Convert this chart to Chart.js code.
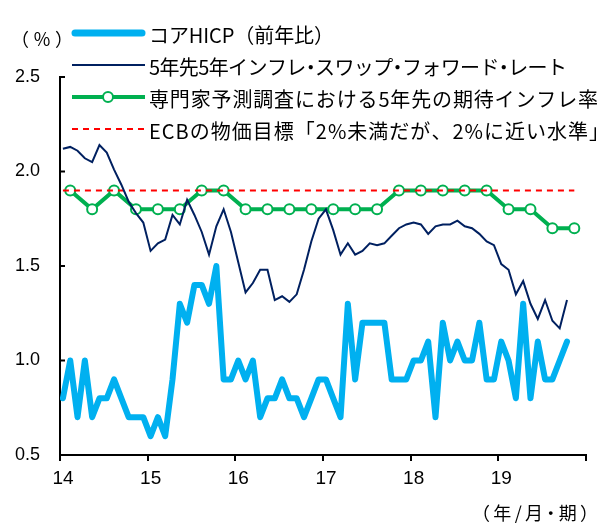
<!DOCTYPE html>
<html>
<head>
<meta charset="utf-8">
<script src="https://cdn.jsdelivr.net/npm/chart.js@4"></script>
<style>
html, body { margin: 0; padding: 0; background: #fff; }
</style>
</head>
<body>
<canvas id="chart" width="602" height="524"></canvas>
<script>
// monthly data from Jan 2014 (month index 0)
const startYear = 14;
const yearTicks = [14, 15, 16, 17, 18, 19];

const hicp = [
    0.8, 1.0, 0.7, 1.0, 0.7, 0.8, 0.8, 0.9, 0.8, 0.7, 0.7, 0.7,
    0.6, 0.7, 0.6, 0.9, 1.3, 1.2, 1.4, 1.4, 1.3, 1.5, 0.9, 0.9,
    1.0, 0.9, 1.0, 0.7, 0.8, 0.8, 0.9, 0.8, 0.8, 0.7, 0.8, 0.9,
    0.9, 0.8, 0.7, 1.3, 0.9, 1.2, 1.2, 1.2, 1.2, 0.9, 0.9, 0.9,
    1.0, 1.0, 1.1, 0.7, 1.2, 1.0, 1.1, 1.0, 1.0, 1.2, 0.9, 0.9,
    1.1, 1.0, 0.8, 1.3, 0.8, 1.1, 0.9, 0.9, 1.0, 1.1
];

const swap5y5y = [
    2.12, 2.13, 2.11, 2.07, 2.05, 2.14, 2.10, 2.01, 1.93, 1.84, 1.78, 1.73,
    1.58, 1.62, 1.64, 1.77, 1.72, 1.85, 1.77, 1.68, 1.56, 1.71, 1.80, 1.68,
    1.52, 1.36, 1.41, 1.48, 1.48, 1.32, 1.34, 1.31, 1.35, 1.48, 1.63, 1.75,
    1.80, 1.69, 1.56, 1.62, 1.56, 1.58, 1.62, 1.61, 1.62, 1.66, 1.70, 1.72,
    1.73, 1.72, 1.67, 1.71, 1.72, 1.72, 1.74, 1.71, 1.70, 1.67, 1.63, 1.61,
    1.51, 1.48, 1.35, 1.42, 1.30, 1.22, 1.32, 1.21, 1.17, 1.32
];

// quarterly survey, first one in Feb 2014 (month 1), every 3 months
const surveyMonths = [1, 4, 7, 10, 13, 16, 19, 22, 25, 28, 31, 34,
                      37, 40, 43, 46, 49, 52, 55, 58, 61, 64, 67, 70];
const survey = [1.9, 1.8, 1.9, 1.8, 1.8, 1.8, 1.9, 1.9, 1.8, 1.8, 1.8, 1.8,
                1.8, 1.8, 1.8, 1.9, 1.9, 1.9, 1.9, 1.9, 1.8, 1.8, 1.7, 1.7];

const targetLevel = 1.9;
const targetMonths = [0, 70];

const labels = [
    "コアHICP（前年比）",
    "5年先5年インフレ・スワップ・フォワード・レート",
    "専門家予測調査における5年先の期待インフレ率",
    "ECBの物価目標「2%未満だが、2%に近い水準」"
];

function monthX(m) {
    return startYear + (m + 0.4) / 12;
}

// draws text char by char so it spans x0..x1, middle dots kept narrow
function fitText(c, text, x0, x1, y) {
    const chars = Array.from(text);
    const widths = chars.map(ch => c.measureText(ch).width * (ch === "・" ? 0.5 : 1));
    const natural = widths.reduce((a, b) => a + b, 0);
    const gap = chars.length > 1 ? (x1 - x0 - natural) / (chars.length - 1) : 0;
    let x = x0;
    c.textAlign = "center";
    chars.forEach((ch, i) => {
        c.fillText(ch, x + widths[i] / 2, y);
        x += widths[i] + gap;
    });
}

const ctx = document.getElementById("chart").getContext("2d");

const legendPlugin = {
    id: "legendDraw",
    afterDraw(chart) {
        const c = chart.ctx;
        const sets = chart.data.datasets;
        const rows = [33, 65, 97, 129];
        const textEnds = [334, 567, 598, 609];
        c.save();
        sets.forEach((ds, i) => {
            const y = rows[i];
            c.beginPath();
            c.strokeStyle = ds.borderColor;
            c.lineWidth = i === 0 ? 7 : ds.borderWidth;
            c.lineCap = i === 0 ? "round" : "butt";
            c.setLineDash(ds.borderDash || []);
            c.moveTo(i === 0 ? 75 : 72, y);
            c.lineTo(i === 0 ? 142 : 145, y);
            c.stroke();
            c.setLineDash([]);
            if (ds.pointRadius > 0) {
                c.beginPath();
                c.arc(108, y, 5, 0, Math.PI * 2);
                c.fillStyle = "#fff";
                c.fill();
                c.lineWidth = 2;
                c.stroke();
            }
            c.fillStyle = "#000";
            c.font = '20px "Noto Sans CJK JP"';
            c.textBaseline = "middle";
            fitText(c, ds.label, 149, textEnds[i], y + 2);
        });

        c.font = '18px "Noto Sans CJK JP"';
        fitText(c, "（%）", 11, 73, 39);
        fitText(c, "（年/月・期）", 472, 598, 513);

        // small inward tick marks on the y axis
        const ys = chart.scales.y;
        const left = chart.chartArea.left;
        c.strokeStyle = "#000";
        c.lineWidth = 2;
        ys.ticks.forEach(t => {
            const py = ys.getPixelForValue(t.value);
            c.beginPath();
            c.moveTo(left, py);
            c.lineTo(left + 5, py);
            c.stroke();
        });
        c.restore();
    }
};

new Chart(ctx, {
    type: "line",
    data: {
        datasets: [
            {
                label: labels[0],
                data: hicp.map((v, i) => ({ x: monthX(i), y: v })),
                borderColor: "#00B0F0",
                borderWidth: 6,
                pointRadius: 0,
                borderJoinStyle: "round",
                borderCapStyle: "round",
                order: 4
            },
            {
                label: labels[1],
                data: swap5y5y.map((v, i) => ({ x: monthX(i), y: v })),
                borderColor: "#002060",
                borderWidth: 2,
                pointRadius: 0,
                order: 1
            },
            {
                label: labels[2],
                data: survey.map((v, i) => ({ x: monthX(surveyMonths[i]), y: v })),
                borderColor: "#00B050",
                borderWidth: 4,
                pointRadius: 5,
                pointBorderWidth: 2,
                pointBackgroundColor: "#fff",
                pointBorderColor: "#00B050",
                order: 3
            },
            {
                label: labels[3],
                data: targetMonths.map(m => ({ x: monthX(m), y: targetLevel })),
                borderColor: "#FF0000",
                borderWidth: 2,
                borderDash: [6, 5],
                pointRadius: 0,
                order: 2
            }
        ]
    },
    options: {
        responsive: false,
        animation: false,
        layout: { padding: { top: 77, right: 16, bottom: 0, left: 0 } },
        plugins: {
            legend: { display: false },
            tooltip: { enabled: false }
        },
        scales: {
            x: {
                type: "linear",
                min: 14,
                max: 20,
                afterFit: s => { s.height = 69; },
                afterBuildTicks: s => {
                    s.ticks = yearTicks.concat([20]).map(v => ({ value: v }));
                },
                ticks: {
                    callback: v => yearTicks.includes(v) ? String(v) : "",
                    font: { family: "Liberation Sans", size: 19 },
                    color: "#000",
                    padding: 6,
                    labelOffset: 3,
                    maxRotation: 0,
                    autoSkip: false
                },
                grid: {
                    drawOnChartArea: false,
                    drawTicks: true,
                    tickLength: 6,
                    color: "#000",
                    lineWidth: 2
                },
                border: { color: "#000", width: 2 }
            },
            y: {
                min: 0.5,
                max: 2.5,
                afterFit: s => { s.width = 60; },
                ticks: {
                    stepSize: 0.5,
                    callback: v => v.toFixed(1),
                    font: { family: "Liberation Sans", size: 18 },
                    color: "#000",
                    padding: 20
                },
                grid: {
                    drawOnChartArea: false,
                    drawTicks: false
                },
                border: { color: "#000", width: 2 }
            }
        }
    },
    plugins: [legendPlugin]
});
</script>
</body>
</html>
